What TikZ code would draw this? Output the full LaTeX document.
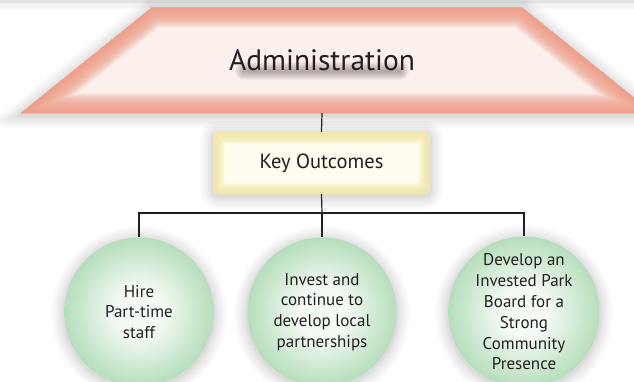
\documentclass[tikz,border=0pt]{standalone}
\usepackage{fontspec}
\setmainfont{PT Sans}
\usepackage{xcolor}
\usepackage{tikz}
\usetikzlibrary{positioning}
\definecolor{ink}{HTML}{231F20}
\definecolor{admedge}{HTML}{EFA089}
\definecolor{adminner}{HTML}{FCF0ED}
\definecolor{keyedge}{HTML}{F2E69C}
\definecolor{keyinner}{HTML}{FFFDEF}
\definecolor{goaledge}{HTML}{B5DEBB}
\definecolor{goalinner}{HTML}{F4FAF4}
\pgfdeclareradialshading{goalfill}{\pgfpoint{0bp}{0bp}}{color(0bp)=(goalinner); color(8bp)=(goalinner); color(25bp)=(goaledge); color(50bp)=(goaledge)}

\begin{document}
\begin{tikzpicture}[x=1pt, y=-1pt,
    every node/.style={text=ink, align=center},
    haze/.style={preaction={draw=black, draw opacity=0.025, line width=26pt, transform canvas={yshift=-2pt}},
                 preaction={draw=black, draw opacity=0.025, line width=20pt, transform canvas={yshift=-2pt}},
                 preaction={draw=black, draw opacity=0.025, line width=15pt, transform canvas={yshift=-2pt}},
                 preaction={draw=black, draw opacity=0.025, line width=10pt, transform canvas={yshift=-2pt}},
                 preaction={draw=black, draw opacity=0.025, line width=6pt, transform canvas={yshift=-2pt}},
                 preaction={draw=black, draw opacity=0.025, line width=3pt, transform canvas={yshift=-2pt}}},
    keybox/.style={draw=none, fill=keyinner, rounded corners=6pt, minimum width=217pt, minimum height=62pt,
        font=\fontsize{20.5}{24}\selectfont, haze,
        path picture={\foreach \w in {1,2,...,24}
            \draw[draw=keyedge, line width=\w pt, opacity=0.065, rounded corners=6pt]
            (path picture bounding box.south west) rectangle (path picture bounding box.north east);}},
    goal/.style={circle, minimum size=149pt, inner sep=0pt, shading=goalfill, haze,
        font=\fontsize{17}{20.8}\selectfont},
    link/.style={draw=ink, line width=1.2pt}]
  \clip (0,0) rectangle (634,381);
  \fill[white] (0,0) rectangle (634,381);
  \fill[gray!22] (0,0) rectangle (634,3.5);
  \shade[top color=gray!12, bottom color=white] (0,3.5) rectangle (634,10);

  % administration banner
  \coordinate (tl) at (152,7.5);
  \coordinate (tr) at (522,7.5);
  \coordinate (br) at (653,113);
  \coordinate (bl) at (21,113);
  \coordinate (admbase) at (322,113);
  \fill[adminner, haze] (bl) -- (tl) -- (tr) -- (br) -- cycle;
  \begin{scope}
    \clip (bl) -- (tl) -- (tr) -- (br) -- cycle;
    \foreach \w in {1,2,...,40}
      \draw[draw=admedge, line width=\w pt, opacity=0.06] (bl) -- (tl) -- (tr) -- (br) -- cycle;
  \end{scope}
  \foreach \w in {2,4,...,18}
    \draw[black, opacity=0.035, line width=\w pt, line cap=round] (244,71) -- (400,71);
  \node[font=\fontsize{29.5}{34}\selectfont] (adm) at (322,60) {Administration};

  % outcomes
  \node[keybox] (key) at (321.5,163) {Key Outcomes};
  \node[goal] (hire) at (139,312) {Hire\\Part-time\\staff};
  \node[goal] (invest) at (322,312) {Invest and\\continue to\\develop local\\partnerships};
  \node[goal] (board) at (524,312) {Develop an\\Invested Park\\Board for a\\Strong\\Community\\Presence};

  \coordinate (fork) at (322,213);
  \draw[link] (admbase) -- (key.north);
  \draw[link] (key.south) -- (fork);
  \draw[link] (hire.north) |- (fork) -| (board.north);
  \draw[link] (fork) -- (invest.north);
\end{tikzpicture}
\end{document}
